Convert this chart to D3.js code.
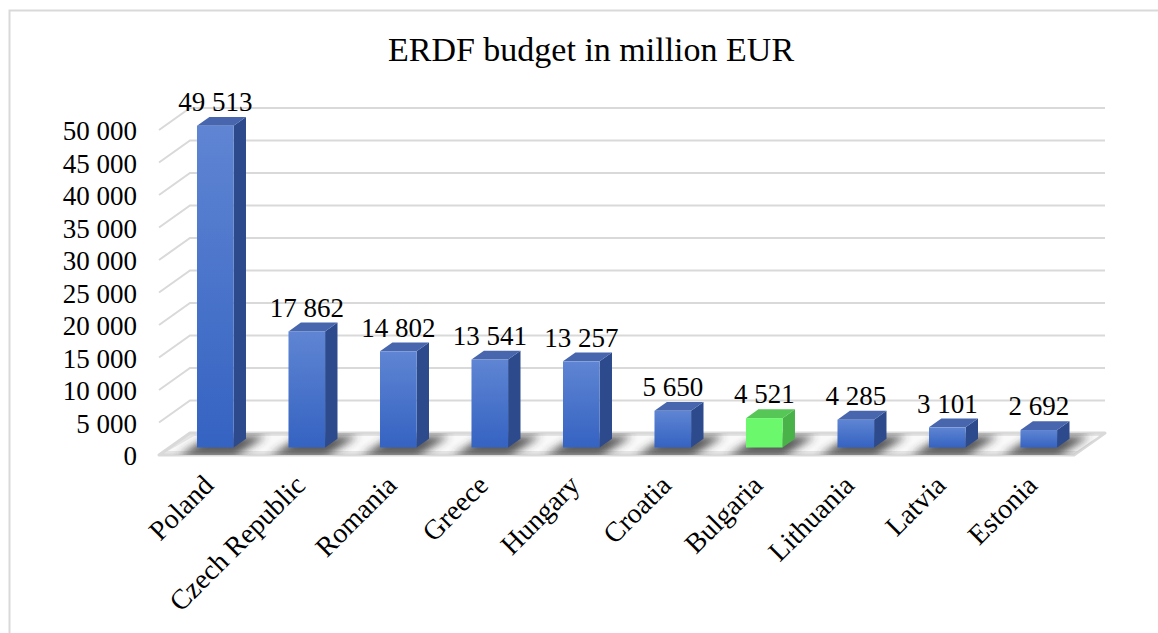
<!DOCTYPE html>
<html>
  <head>
    <title>ERDF budget</title>
    <script src="https://cdn.jsdelivr.net/npm/d3@7"></script>
    <style type="text/css">

html, body {
  margin: 0;
  background: #fff;
}

svg {
  display: block;
}

text {
  font-family: "Liberation Serif", "Times New Roman", serif;
  fill: #000;
}

    </style>
  </head>
  <body>
    <script type="text/javascript">

var countries = ["Poland", "Czech Republic", "Romania", "Greece", "Hungary",
                 "Croatia", "Bulgaria", "Lithuania", "Latvia", "Estonia"];
var budget = [49513, 17862, 14802, 13541, 13257, 5650, 4521, 4285, 3101, 2692];
var highlight = "Bulgaria";
var tickValues = [0, 5000, 10000, 15000, 20000, 25000, 30000, 35000, 40000, 45000, 50000];
var title = "ERDF budget in million EUR";

var width = 1158, height = 633;

// back wall of the 3d box, and how far the floor comes forward
var depthX = -31, depthY = 22;
var frontDepth = 0.66, backDepth = 0.26;

var fmt = d3.formatLocale({ decimal: ",", thousands: " ", grouping: [3] }).format(",d");

var x = d3.scaleBand()
    .domain(countries)
    .range([190, 1105])
    .paddingInner(0.6)
    .paddingOuter(0.3);

var y = d3.scaleLinear()
    .domain([0, 50000])
    .range([433, 108]);

var svg = d3.select("body").append("svg")
    .attr("width", width)
    .attr("height", height);

var defs = svg.append("defs");

defs.append("filter")
    .attr("id", "blur")
    .attr("x", "-50%").attr("y", "-100%")
    .attr("width", "200%").attr("height", "300%")
  .append("feGaussianBlur")
    .attr("stdDeviation", 4.5);

var blueGrad = defs.append("linearGradient")
    .attr("id", "blue").attr("x1", 0).attr("y1", 0).attr("x2", 0).attr("y2", 1);
blueGrad.append("stop").attr("offset", 0).attr("stop-color", "#5f85d3");
blueGrad.append("stop").attr("offset", 1).attr("stop-color", "#3563c2");

var floorPoly = [
  [190, y(0)], [1105, y(0)],
  [1105 + depthX, y(0) + depthY], [190 + depthX, y(0) + depthY]
];

defs.append("clipPath").attr("id", "floorClip")
  .append("polygon")
    .attr("points", floorPoly.join(" "));

// chart frame
svg.append("rect")
    .attr("x", 9.5).attr("y", 10.5)
    .attr("width", width + 10).attr("height", height + 10)
    .attr("fill", "none")
    .attr("stroke", "#d9d9d9")
    .attr("stroke-width", 2);

svg.append("text")
    .attr("x", 591).attr("y", 61)
    .attr("text-anchor", "middle")
    .attr("font-size", 34)
    .text(title);

// gridlines: back wall + left side
var grid = svg.append("g")
    .attr("stroke", "#d9d9d9")
    .attr("stroke-width", 2)
    .attr("fill", "none");

grid.selectAll("path")
    .data(tickValues.filter(function(d) { return d > 0; }))
  .enter().append("path")
    .attr("d", function(d) {
      return "M" + (190 + depthX) + "," + (y(d) + depthY) +
             "L190," + y(d) + "L1105," + y(d);
    });

// floor
svg.append("polygon")
    .attr("points", floorPoly.join(" "))
    .attr("fill", "#e4e4e4")
    .attr("stroke", "#d9d9d9")
    .attr("stroke-width", 3)
    .attr("stroke-linejoin", "round");

svg.append("polygon")
    .attr("points", [
      [194, y(0) + 3], [1099, y(0) + 3],
      [1077, y(0) + depthY - 4], [168, y(0) + depthY - 4]
    ].join(" "))
    .attr("fill", "#f9f9f9");

// shadows under the bars, skewed along the floor
svg.append("g")
    .attr("clip-path", "url(#floorClip)")
  .selectAll("polygon")
    .data(countries)
  .enter().append("polygon")
    .attr("points", function(d) {
      var x0 = x(d) - 8, x1 = x(d) + x.bandwidth() + 12, yb = y(0) + 3;
      return [[x0, yb], [x1, yb], [x1 + depthX, yb + depthY - 2], [x0 + depthX, yb + depthY - 2]].join(" ");
    })
    .attr("fill", "#333")
    .attr("opacity", 0.8)
    .attr("filter", "url(#blur)");

// 3d bars
var fx = depthX * frontDepth, fy = depthY * frontDepth;
var bx = depthX * backDepth, by = depthY * backDepth;

var bar = svg.append("g").selectAll("g")
    .data(countries)
  .enter().append("g");

function isHi(d) { return d === highlight; }

bar.append("polygon")
    .attr("points", function(d, i) {
      var x1 = x(d) + x.bandwidth(), yt = y(budget[i]), yb = y(0);
      return [[x1 + fx, yt + fy], [x1 + bx, yt + by], [x1 + bx, yb + by], [x1 + fx, yb + fy]].join(" ");
    })
    .attr("fill", function(d) { return isHi(d) ? "#49b349" : "#2c4a8c"; });

bar.append("polygon")
    .attr("points", function(d, i) {
      var x0 = x(d), x1 = x0 + x.bandwidth(), yt = y(budget[i]);
      return [[x0 + fx, yt + fy], [x1 + fx, yt + fy], [x1 + bx, yt + by], [x0 + bx, yt + by]].join(" ");
    })
    .attr("fill", function(d) { return isHi(d) ? "#56c656" : "#4766ad"; });

bar.append("rect")
    .attr("x", function(d) { return x(d) + fx; })
    .attr("y", function(d, i) { return y(budget[i]) + fy; })
    .attr("width", x.bandwidth())
    .attr("height", function(d, i) { return y(0) - y(budget[i]); })
    .attr("fill", function(d) { return isHi(d) ? "#6cf86c" : "url(#blue)"; });

// value labels
svg.append("g")
    .attr("font-size", 27)
    .attr("text-anchor", "middle")
  .selectAll("text")
    .data(countries)
  .enter().append("text")
    .attr("x", function(d) { return x(d) + fx + x.bandwidth() / 2; })
    .attr("y", function(d, i) { return y(budget[i]) + by - 6; })
    .text(function(d, i) { return fmt(budget[i]); });

// y axis labels
svg.append("g")
    .attr("font-size", 27)
    .attr("text-anchor", "end")
  .selectAll("text")
    .data(tickValues)
  .enter().append("text")
    .attr("x", 137)
    .attr("y", function(d) { return y(d) + depthY + 1; })
    .attr("dy", "0.35em")
    .text(fmt);

// category labels
svg.append("g")
    .attr("font-size", 28)
    .attr("text-anchor", "end")
  .selectAll("text")
    .data(countries)
  .enter().append("text")
    .attr("transform", function(d) {
      return "translate(" + (x(d) + fx + x.bandwidth() / 2 - 7) + ",480) rotate(-45)";
    })
    .attr("dy", "0.35em")
    .text(function(d) { return d; });

    </script>
  </body>
</html>
